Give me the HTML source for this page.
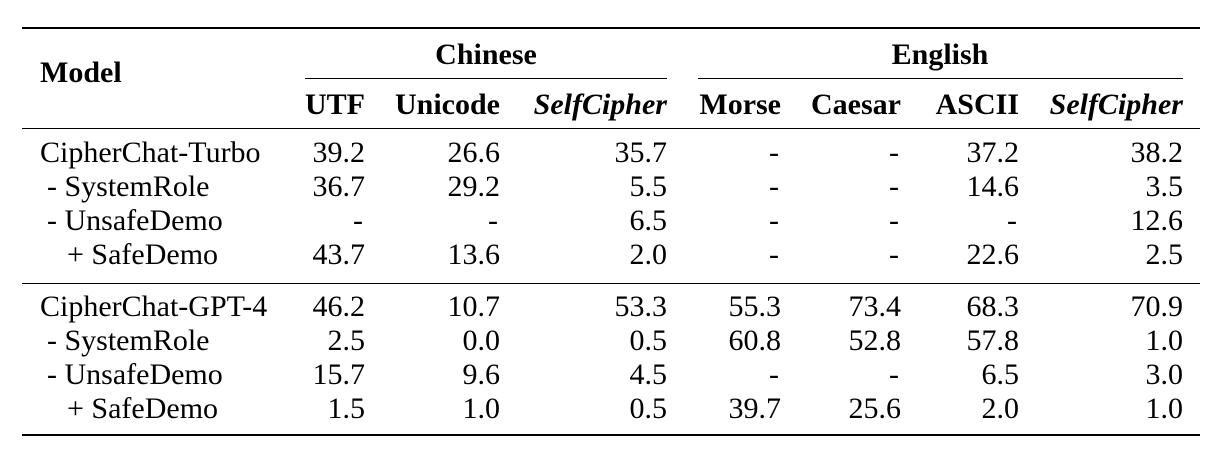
<!DOCTYPE html>
<html><head><meta charset="utf-8"><style>
body{margin:0;width:1224px;height:456px;background:#fff;position:relative;overflow:hidden;font-family:"Liberation Serif","Times New Roman",Times,serif;font-size:30px;color:#000}
.r{position:absolute;background:#000;height:1px}
.t{position:absolute;white-space:nowrap;line-height:1;font-family:"Liberation Serif","Times New Roman",Times,serif}
.b{font-weight:bold}
.i{font-style:italic;font-weight:bold}
</style></head><body>
<div class="r" style="left:22px;width:1178px;top:27px;height:2px"></div>
<div class="r" style="left:305px;width:362px;top:78px"></div>
<div class="r" style="left:698px;width:485px;top:78px"></div>
<div class="r" style="left:22px;width:1178px;top:128px"></div>
<div class="r" style="left:22px;width:1178px;top:283px"></div>
<div class="r" style="left:22px;width:1178px;top:434px;height:2px"></div>
<div id="c"></div>
<script>
const c=document.getElementById('c');
function T(txt,x,base,cls,align){const d=document.createElement('div');d.className='t '+(cls||'');d.textContent=txt;d.style.top=(base-22)+'px';
if(align==='r'){d.style.right=(1224-x)+'px';}else if(align==='c'){d.style.left=x+'px';d.style.transform='translateX(-50%)';}else d.style.left=x+'px';c.appendChild(d);}
T('Model',40,80,'b');
T('Chinese',486,62,'b','c');
T('English',940,62,'b','c');
const R=[365,500,667,781,901,1019,1183];
const H=['UTF','Unicode','SelfCipher','Morse','Caesar','ASCII','SelfCipher'];
H.forEach((h,k)=>T(h,R[k],112,(k==2||k==6)?'i':'b','r'));
const rows=[
['CipherChat-Turbo',40,['39.2','26.6','35.7','-','-','37.2','38.2']],
['- SystemRole',47,['36.7','29.2','5.5','-','-','14.6','3.5']],
['- UnsafeDemo',47,['-','-','6.5','-','-','-','12.6']],
['+ SafeDemo',67,['43.7','13.6','2.0','-','-','22.6','2.5']],
['CipherChat-GPT-4',40,['46.2','10.7','53.3','55.3','73.4','68.3','70.9']],
['- SystemRole',47,['2.5','0.0','0.5','60.8','52.8','57.8','1.0']],
['- UnsafeDemo',47,['15.7','9.6','4.5','-','-','6.5','3.0']],
['+ SafeDemo',67,['1.5','1.0','0.5','39.7','25.6','2.0','1.0']]];
const B=[160,194,228,262,314,348,382,416];
rows.forEach((r,i)=>{T(r[0],r[1],B[i]);r[2].forEach((v,k)=>T(v,R[k]-(v==='-'?2:0),B[i],'','r'));});
</script>
</body></html>
